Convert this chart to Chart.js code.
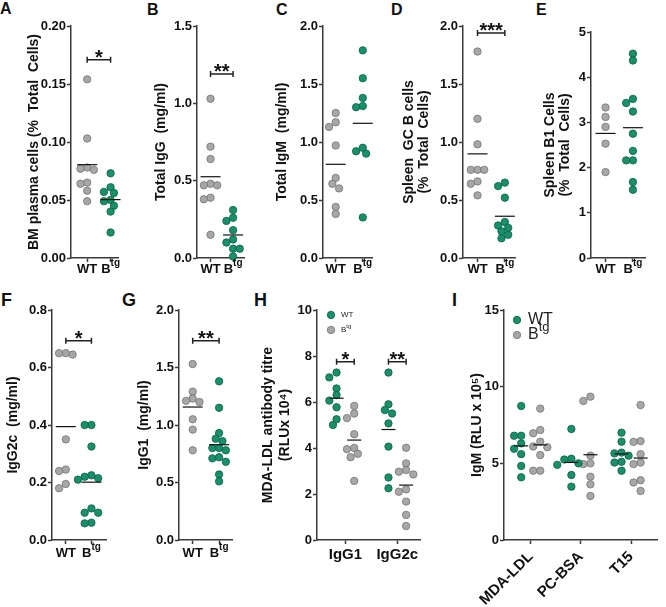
<!DOCTYPE html>
<html>
<head>
<meta charset="utf-8">
<script src="https://cdn.jsdelivr.net/npm/chart.js@4.4.1/dist/chart.umd.min.js"></script>
<style>
  body { margin: 0; background: #fff; }
  #fig { position: relative; width: 666px; height: 607px; overflow: hidden; font-family: 'Liberation Sans', Arial, sans-serif; }
  #fig canvas { position: absolute; }
  .tag { position: absolute; font-weight: bold; line-height: 1; color: #111; }
  .row1 { font-size: 16px; }
  .row2 { font-size: 18px; }
</style>
</head>
<body>
<div id="fig">
  <div class="tag row1" style="left:0;top:1px">A</div>
  <div class="tag row1" style="left:147px;top:2px">B</div>
  <div class="tag row1" style="left:276px;top:2px">C</div>
  <div class="tag row1" style="left:391px;top:2px">D</div>
  <div class="tag row1" style="left:536px;top:2px">E</div>
  <div class="tag row2" style="left:1px;top:291px">F</div>
  <div class="tag row2" style="left:122px;top:291px">G</div>
  <div class="tag row2" style="left:254px;top:291px">H</div>
  <div class="tag row2" style="left:452px;top:291px">I</div>
  <canvas id="chartA"></canvas>
  <canvas id="chartB"></canvas>
  <canvas id="chartC"></canvas>
  <canvas id="chartD"></canvas>
  <canvas id="chartE"></canvas>
  <canvas id="chartF"></canvas>
  <canvas id="chartG"></canvas>
  <canvas id="chartH"></canvas>
  <canvas id="chartI"></canvas>
</div>
<script>
// categories ('^' marks a superscript)
const mouseGroups = ['WT', 'B^tg'];
const mdaIsotypes = ['IgG1', 'IgG2c'];
const igmAntigens = ['MDA-LDL', 'PC-BSA', 'T15'];

// A - BM plasma cells (% total cells)
const bmPlasmaWT  = [0.154, 0.103, 0.078, 0.077, 0.076, 0.065, 0.064, 0.058, 0.049];
const bmPlasmaBtg = [0.073, 0.061, 0.057, 0.056, 0.050, 0.049, 0.045, 0.040, 0.022];
// B - total IgG (mg/ml)
const totalIgGWT  = [1.03, 0.72, 0.64, 0.48, 0.47, 0.47, 0.39, 0.38, 0.15];
const totalIgGBtg = [0.31, 0.26, 0.24, 0.18, 0.12, 0.10, 0.06, 0.06, 0.01];
// C - total IgM (mg/ml)
const totalIgMWT  = [1.25, 1.17, 1.13, 0.97, 0.69, 0.64, 0.60, 0.44, 0.38];
const totalIgMBtg = [1.79, 1.55, 1.38, 1.31, 1.30, 0.95, 0.92, 0.90, 0.35];
// D - spleen GC B cells
const spleenGCWT  = [1.78, 1.20, 0.98, 0.76, 0.76, 0.76, 0.66, 0.64, 0.54];
const spleenGCBtg = [0.65, 0.62, 0.52, 0.31, 0.28, 0.26, 0.23, 0.20, 0.17];
// E - spleen B1 cells
const spleenB1WT  = [3.33, 3.12, 2.90, 2.53, 1.90];
const spleenB1Btg = [4.52, 4.37, 3.52, 3.43, 3.24, 2.75, 2.37, 2.16, 2.16, 1.68, 1.51];
// F - IgG2c (mg/ml)
const igG2cWT  = [0.650, 0.645, 0.650, 0.350, 0.245, 0.240, 0.195, 0.180];
const igG2cBtg = [0.400, 0.400, 0.325, 0.225, 0.220, 0.215, 0.210, 0.110, 0.095, 0.095, 0.060, 0.058];
// G - IgG1 (mg/ml)
const igG1WT  = [1.53, 1.29, 1.23, 1.21, 1.20, 1.05, 0.96, 0.78];
const igG1Btg = [1.38, 1.15, 0.93, 0.88, 0.86, 0.80, 0.80, 0.78, 0.72, 0.71, 0.68, 0.57, 0.51];
// H - MDA-LDL antibody titre (RLU x 10^4)
const mdaIgG1WT   = [7.28, 7.07, 6.59, 6.30, 6.06, 5.77, 5.25, 5.00];
const mdaIgG1Btg  = [5.83, 5.50, 5.30, 4.60, 4.00, 3.95, 3.75, 3.60, 2.57];
const mdaIgG2cWT  = [7.28, 5.90, 5.65, 5.50, 5.07, 4.06, 2.72, 2.25];
const mdaIgG2cBtg = [4.01, 3.33, 3.04, 2.97, 2.85, 2.20, 2.10, 1.67, 1.09, 0.61];
// I - IgM (RLU x 10^5)
const igmMdaWT  = [8.74, 6.80, 6.80, 6.30, 5.95, 5.60, 4.83, 4.09];
const igmMdaBtg = [8.57, 7.17, 6.96, 6.41, 6.10, 6.05, 5.54, 4.52, 4.52];
const igmPcWT   = [7.24, 5.30, 5.25, 5.00, 4.90, 4.24, 3.48];
const igmPcBtg  = [9.35, 9.07, 5.50, 5.00, 4.95, 4.13, 3.63, 2.87];
const igmT15WT  = [7.00, 6.41, 5.70, 5.65, 5.50, 5.10, 5.05, 4.52];
const igmT15Btg = [8.80, 6.45, 6.40, 5.60, 5.05, 4.95, 3.90, 3.75, 3.20];

// y tick labels
const ticksA = [0, 0.05, 0.10, 0.15, 0.20];
const ticksB = [0, 0.5, 1.0, 1.5];
const ticksC = [0, 0.5, 1.0, 1.5, 2.0];
const ticksD = [0, 0.5, 1.0, 1.5, 2.0];
const ticksE = [0, 1, 2, 3, 4, 5];
const ticksF = [0, 0.2, 0.4, 0.6, 0.8];
const ticksG = [0, 0.5, 1.0, 1.5, 2.0];
const ticksH = [0, 2, 4, 6, 8, 10];
const ticksI = [0, 5, 10, 15];

const FONT = "'Liberation Sans', Arial, sans-serif";
const AXIS = '#3a3a3a';
const INK = '#111';
const GREY = '#a7a7a7', GREY_EDGE = '#737373';
const GREEN = '#18906a', GREEN_EDGE = '#0b5f45';
const DOT = 3.7;

function mean(arr) {
  return arr.reduce((s, v) => s + v, 0) / arr.length;
}

// simple beeswarm: returns horizontal offsets (axis units) so dots don't pile up
function swarm(values, pxX, pxY, d) {
  const order = values.map((v, i) => i).sort((a, b) => values[b] - values[a]);
  const placed = [];
  const off = new Array(values.length).fill(0);
  order.forEach(i => {
    const y = values[i] * pxY;
    for (let k = 0; k < 40; k++) {
      const dx = (k % 2 ? -1 : 1) * Math.ceil(k / 2) * d * 0.5;
      if (placed.every(p => Math.hypot(p.x - dx, p.y - y) >= d * 0.9)) {
        placed.push({ x: dx, y: y });
        off[i] = dx / pxX;
        break;
      }
    }
  });
  return off;
}

// text with optional '^' superscript
function drawText(ctx, text, x, y, size, weight, align) {
  const parts = text.split('^');
  const supSize = Math.round(size * 0.8);
  ctx.font = weight + ' ' + size + 'px ' + FONT;
  const wm = ctx.measureText(parts[0]).width;
  ctx.font = weight + ' ' + supSize + 'px ' + FONT;
  const ws = parts[1] ? ctx.measureText(parts[1]).width : 0;
  const x0 = align === 'center' ? x - (wm + ws) / 2 : x;
  ctx.textAlign = 'left';
  ctx.textBaseline = 'middle';
  ctx.font = weight + ' ' + size + 'px ' + FONT;
  ctx.fillText(parts[0], x0, y);
  if (parts[1]) {
    ctx.font = weight + ' ' + supSize + 'px ' + FONT;
    ctx.fillText(parts[1], x0 + wm, y - size * 0.45);
  }
}

function makeDecor(p) {
  return {
    id: 'decor',
    afterDraw(chart) {
      const ctx = chart.ctx;
      const xs = chart.scales.x, ys = chart.scales.y, area = chart.chartArea;
      ctx.save();
      ctx.fillStyle = INK;
      if (p.groupLabels) {
        p.cats.forEach((c, i) => {
          drawText(ctx, c, xs.getPixelForValue(i), area.bottom + p.labelDy, 13, 'bold', 'center');
        });
      }
      (p.brackets || []).forEach(b => {
        const x1 = xs.getPixelForValue(b.x1), x2 = xs.getPixelForValue(b.x2);
        const y = ys.getPixelForValue(b.y);
        ctx.strokeStyle = '#222';
        ctx.lineWidth = 1.5;
        ctx.beginPath();
        ctx.moveTo(x1, y); ctx.lineTo(x2, y);
        ctx.moveTo(x1, y - 3); ctx.lineTo(x1, y + 3);
        ctx.moveTo(x2, y - 3); ctx.lineTo(x2, y + 3);
        ctx.stroke();
        ctx.font = 'bold 20px ' + FONT;
        ctx.textAlign = 'center';
        ctx.textBaseline = 'alphabetic';
        ctx.fillStyle = INK;
        ctx.fillText(b.text, (x1 + x2) / 2, y + 4);
      });
      if (p.legend) {
        const L = p.legend;
        L.items.forEach((it, k) => {
          const cy = area.top + L.dy + k * L.gap;
          ctx.beginPath();
          ctx.arc(area.left + L.dx, cy, DOT, 0, Math.PI * 2);
          ctx.fillStyle = it.fill;
          ctx.fill();
          ctx.lineWidth = 0.8;
          ctx.strokeStyle = it.edge;
          ctx.stroke();
          ctx.fillStyle = '#222';
          drawText(ctx, it.label, area.left + L.tx, cy, L.size, 'normal', 'left');
        });
      }
      ctx.restore();
    }
  };
}

function makePanel(id, box, area, p) {
  const cv = document.getElementById(id);
  cv.width = box.w;
  cv.height = box.h;
  cv.style.left = box.x + 'px';
  cv.style.top = box.y + 'px';
  const yw = area.l - box.x;
  const pt = area.t - box.y;
  const pr = box.x + box.w - area.r;
  const xh = box.y + box.h - area.b;
  const yMin = p.yTicks[0], yMax = p.yTicks[p.yTicks.length - 1];
  const pxX = (area.r - area.l) / (p.xMax - p.xMin);
  const pxY = (area.b - area.t) / (yMax - yMin);

  const datasets = [];
  p.groups.forEach(g => {
    const off = swarm(g.values, pxX, pxY, DOT * 2);
    datasets.push({
      data: g.values.map((v, i) => ({ x: g.x + off[i], y: v })),
      pointBackgroundColor: g.fill,
      pointBorderColor: g.edge,
      pointBorderWidth: 0.8,
      pointRadius: DOT,
      clip: false,
      order: 2
    });
    datasets.push({
      data: [{ x: g.x, y: mean(g.values) }],
      pointStyle: 'line',
      pointRadius: p.meanHalf,
      pointBorderColor: '#111',
      pointBorderWidth: 1.2,
      clip: false,
      order: 1
    });
  });

  new Chart(cv, {
    type: 'scatter',
    data: { datasets: datasets },
    options: {
      responsive: false,
      animation: false,
      events: [],
      layout: { padding: { left: 0, top: pt, right: pr, bottom: 0 } },
      plugins: { legend: { display: false }, tooltip: { enabled: false } },
      scales: {
        x: {
          type: 'linear',
          min: p.xMin,
          max: p.xMax,
          afterBuildTicks: s => { s.ticks = p.cats.map((c, i) => ({ value: i })); },
          afterFit: s => { s.height = xh; },
          grid: { drawOnChartArea: false, drawTicks: true, tickLength: 4, tickColor: AXIS, tickWidth: 1.5 },
          border: { color: AXIS, width: 1.5 },
          ticks: {
            autoSkip: false,
            callback: (v, i) => (p.groupLabels ? '' : p.cats[i]),
            font: { family: FONT, size: 15, weight: 'bold' },
            color: INK,
            padding: p.rotate ? 4 : 2,
            maxRotation: p.rotate || 0,
            minRotation: p.rotate || 0
          }
        },
        y: {
          type: 'linear',
          min: yMin,
          max: yMax,
          afterBuildTicks: s => { s.ticks = p.yTicks.map(v => ({ value: v })); },
          afterFit: s => { s.width = yw; },
          grid: { drawOnChartArea: false, drawTicks: true, tickLength: 4, tickColor: AXIS, tickWidth: 1.5 },
          border: { color: AXIS, width: 1.5 },
          ticks: {
            callback: v => v.toFixed(p.dec),
            font: { family: FONT, size: 13, weight: 'bold' },
            color: INK,
            padding: 1
          },
          title: {
            display: true,
            text: p.title,
            color: INK,
            font: { family: FONT, size: 14, weight: 'bold', lineHeight: p.titleLH || 1.2 },
            padding: { top: 4, bottom: 0 }
          }
        }
      }
    },
    plugins: [makeDecor(p)]
  });
}

function twoGroups(wt, btg) {
  return [
    { x: 0, values: wt, fill: GREY, edge: GREY_EDGE },
    { x: 1, values: btg, fill: GREEN, edge: GREEN_EDGE }
  ];
}

makePanel('chartA', { x: 22, y: 0, w: 108, h: 282 }, { l: 71, t: 26, r: 124, b: 258 }, {
  cats: mouseGroups, groupLabels: true, labelDy: 11, xMin: -0.69, xMax: 1.35,
  yTicks: ticksA, dec: 2, meanHalf: 10,
  title: 'BM plasma cells (%  Total  Cells)',
  groups: twoGroups(bmPlasmaWT, bmPlasmaBtg),
  brackets: [{ x1: 0, x2: 1, y: 0.171, text: '*' }]
});

makePanel('chartB', { x: 149, y: 0, w: 107, h: 282 }, { l: 197, t: 26, r: 250, b: 258 }, {
  cats: mouseGroups, groupLabels: true, labelDy: 11, xMin: -0.6, xMax: 1.52,
  yTicks: ticksB, dec: 1, meanHalf: 10,
  title: 'Total IgG  (mg/ml)',
  groups: twoGroups(totalIgGWT, totalIgGBtg),
  brackets: [{ x1: 0, x2: 1, y: 1.19, text: '**' }]
});

makePanel('chartC', { x: 270, y: 0, w: 114, h: 282 }, { l: 323, t: 26, r: 378, b: 258 }, {
  cats: mouseGroups, groupLabels: true, labelDy: 11, xMin: -0.47, xMax: 1.37,
  yTicks: ticksC, dec: 1, meanHalf: 10,
  title: 'Total IgM  (mg/ml)',
  groups: twoGroups(totalIgMWT, totalIgMBtg)
});

makePanel('chartD', { x: 398, y: 0, w: 129, h: 282 }, { l: 463, t: 26, r: 521, b: 258 }, {
  cats: mouseGroups, groupLabels: true, labelDy: 11, xMin: -0.53, xMax: 1.4,
  yTicks: ticksD, dec: 1, meanHalf: 10,
  title: ['Spleen  GC B cells', '(%  Total  Cells)'], titleLH: 1.05,
  groups: twoGroups(spleenGCWT, spleenGCBtg),
  brackets: [{ x1: 0, x2: 1, y: 1.94, text: '***' }]
});

makePanel('chartE', { x: 539, y: 0, w: 118, h: 282 }, { l: 591, t: 32, r: 651, b: 258 }, {
  cats: mouseGroups, groupLabels: true, labelDy: 11, xMin: -0.53, xMax: 1.47,
  yTicks: ticksE, dec: 0, meanHalf: 10,
  title: ['Spleen B1 Cells', '(%  Total  Cells)'], titleLH: 1.05,
  groups: twoGroups(spleenB1WT, spleenB1Btg)
});

makePanel('chartF', { x: 1, y: 285, w: 117, h: 322 }, { l: 52, t: 310, r: 112, b: 540 }, {
  cats: mouseGroups, groupLabels: true, labelDy: 13, xMin: -0.54, xMax: 1.6,
  yTicks: ticksF, dec: 1, meanHalf: 10,
  title: 'IgG2c  (mg/ml)',
  groups: twoGroups(igG2cWT, igG2cBtg),
  brackets: [{ x1: 0, x2: 1, y: 0.693, text: '*' }]
});

makePanel('chartG', { x: 132, y: 285, w: 112, h: 322 }, { l: 179, t: 310, r: 238, b: 540 }, {
  cats: mouseGroups, groupLabels: true, labelDy: 13, xMin: -0.52, xMax: 1.52,
  yTicks: ticksG, dec: 1, meanHalf: 10,
  title: 'IgG1  (mg/ml)',
  groups: twoGroups(igG1WT, igG1Btg),
  brackets: [{ x1: 0, x2: 1, y: 1.733, text: '**' }]
});

makePanel('chartH', { x: 256, y: 285, w: 173, h: 322 }, { l: 317, t: 310, r: 423, b: 540 }, {
  cats: mdaIsotypes, xMin: -0.547, xMax: 1.453,
  yTicks: ticksH, dec: 0, meanHalf: 7,
  title: ['MDA-LDL antibody titre', '(RLUx 10\u2074)'],
  groups: [
    { x: -0.17, values: mdaIgG1WT, fill: GREEN, edge: GREEN_EDGE },
    { x: 0.17, values: mdaIgG1Btg, fill: GREY, edge: GREY_EDGE },
    { x: 0.83, values: mdaIgG2cWT, fill: GREEN, edge: GREEN_EDGE },
    { x: 1.17, values: mdaIgG2cBtg, fill: GREY, edge: GREY_EDGE }
  ],
  brackets: [
    { x1: -0.17, x2: 0.17, y: 7.75, text: '*' },
    { x1: 0.83, x2: 1.17, y: 7.75, text: '**' }
  ],
  legend: { dx: 14, tx: 24, dy: 5, gap: 15, size: 8, items: [
    { label: mouseGroups[0], fill: GREEN, edge: GREEN_EDGE },
    { label: mouseGroups[1], fill: GREY, edge: GREY_EDGE }
  ] }
});

makePanel('chartI', { x: 465, y: 285, w: 201, h: 322 }, { l: 504, t: 310, r: 665, b: 540 }, {
  cats: igmAntigens, xMin: -0.533, xMax: 2.533, rotate: 45,
  yTicks: ticksI, dec: 0, meanHalf: 7,
  title: 'IgM (RLU x 10\u2075)',
  groups: [
    { x: -0.19, values: igmMdaWT, fill: GREEN, edge: GREEN_EDGE },
    { x: 0.19, values: igmMdaBtg, fill: GREY, edge: GREY_EDGE },
    { x: 0.81, values: igmPcWT, fill: GREEN, edge: GREEN_EDGE },
    { x: 1.19, values: igmPcBtg, fill: GREY, edge: GREY_EDGE },
    { x: 1.81, values: igmT15WT, fill: GREEN, edge: GREEN_EDGE },
    { x: 2.19, values: igmT15Btg, fill: GREY, edge: GREY_EDGE }
  ],
  legend: { dx: 13, tx: 24, dy: 10, gap: 15, size: 16, items: [
    { label: mouseGroups[0], fill: GREEN, edge: GREEN_EDGE },
    { label: mouseGroups[1], fill: GREY, edge: GREY_EDGE }
  ] }
});
</script>
</body>
</html>
